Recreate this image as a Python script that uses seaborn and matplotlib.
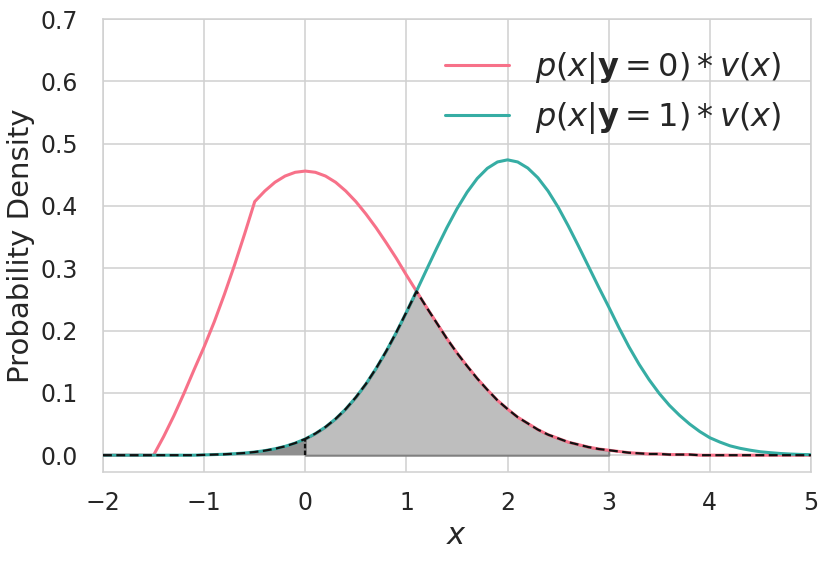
import numpy as np
import pandas as pd
import matplotlib
matplotlib.use("Agg")
import matplotlib.pyplot as plt
import seaborn as sns

# sample positions along x
x_vals = np.round(np.arange(-2.0, 5.0001, 0.1), 1)

# p(x|y=0)*v(x)
pink_vals = [0, 0, 0, 0, 0, 0,
             0.030, 0.063, 0.099, 0.137, 0.174, 0.214, 0.258, 0.305, 0.355, 0.407,
             0.424, 0.438, 0.448, 0.454, 0.456, 0.454, 0.448, 0.438, 0.424, 0.407,
             0.387, 0.365, 0.341, 0.316, 0.289, 0.263, 0.237, 0.212, 0.187, 0.164,
             0.143, 0.123, 0.105, 0.088, 0.074, 0.061, 0.051, 0.041, 0.033, 0.027,
             0.021, 0.017, 0.013, 0.010, 0.008, 0.006, 0.004, 0.003, 0.002, 0.002,
             0.001, 0.001, 0.001, 0.0,
             0, 0, 0, 0, 0, 0, 0, 0, 0, 0, 0]

# p(x|y=1)*v(x)
teal_vals = [0, 0, 0, 0, 0, 0, 0, 0, 0, 0,
             0.0005, 0.001, 0.0015, 0.0024, 0.0035, 0.0051, 0.0073, 0.0103, 0.0142, 0.0194,
             0.0261, 0.0347, 0.0453, 0.0584, 0.0742, 0.0929, 0.1145, 0.1393, 0.1669, 0.1972,
             0.2297, 0.2635, 0.2981, 0.3323, 0.3652, 0.3955, 0.4221, 0.4441, 0.4604, 0.4706,
             0.474,
             0.4706, 0.4608, 0.4452, 0.424, 0.398, 0.368, 0.336, 0.303, 0.270, 0.238,
             0.205, 0.174, 0.146, 0.121, 0.099, 0.080, 0.064, 0.050, 0.038, 0.028,
             0.021, 0.015, 0.011, 0.008, 0.0055, 0.004, 0.0027, 0.0018, 0.0012, 0.0008]

labels = [r"$p(x|\mathbf{y}=0) * v(x)$", r"$p(x|\mathbf{y}=1) * v(x)$"]
shade_lo, shade_hi = 0.0, 3.0
x_ticks = [-2, -1, 0, 1, 2, 3, 4, 5]
y_ticks = [0.0, 0.1, 0.2, 0.3, 0.4, 0.5, 0.6, 0.7]

sns.set_theme(style="whitegrid")
plt.rcParams["font.family"] = ["DejaVu Sans"]

x = np.asarray(x_vals)
pink = np.asarray(pink_vals)
teal = np.asarray(teal_vals)
lower = np.minimum(pink, teal)

df = pd.DataFrame({
    "x": np.concatenate([x, x]),
    "density": np.concatenate([pink, teal]),
    "series": [labels[0]] * len(x) + [labels[1]] * len(x),
})

palette = sns.color_palette("husl", 2)

fig = plt.figure(figsize=(8.30, 5.61), dpi=100)
ax = fig.add_axes([0.1241, 0.1586, 0.8530, 0.8075])

# shaded areas
mask_mid = (x >= shade_lo) & (x <= shade_hi)
ax.fill_between(x, 0, lower, where=mask_mid, facecolor="#bebebe",
                edgecolor="#808080", linewidth=1.5, zorder=1)
mask_left = x <= shade_lo
ax.fill_between(x, 0, lower, where=mask_left, facecolor="#8f8f8f",
                edgecolor="none", linewidth=0, zorder=1)

sns.lineplot(data=df, x="x", y="density", hue="series", palette=palette,
             linewidth=2.2, ax=ax, zorder=3)

ax.plot(x, lower, color="#111111", linestyle=(0, (4, 2.0)), linewidth=1.6, zorder=4)
ax.vlines(shade_lo, 0, np.interp(shade_lo, x, lower), color="#111111",
          linestyle=(0, (2, 1)), linewidth=1.6, zorder=4)

ax.set_xlim(-2, 5)
ax.set_ylim(-0.027, 0.7)
ax.set_xticks(x_ticks)
ax.set_yticks(y_ticks)
ax.set_yticklabels([f"{v:.1f}" for v in y_ticks])
ax.tick_params(axis="y", labelsize=17, pad=12, colors="#262626")
ax.tick_params(axis="x", labelsize=17, pad=8, colors="#262626")
ax.set_xlabel("$x$", fontsize=22, color="#262626", labelpad=4)
ax.set_ylabel("Probability Density", fontsize=21, color="#262626", labelpad=4)
ax.grid(True, color="#d0d0d0", linewidth=1.1)
for s in ax.spines.values():
    s.set_color("#d0d0d0")
    s.set_linewidth(1.1)

handles, lbls = ax.get_legend_handles_labels()
ax.legend(handles, lbls, loc="upper right", bbox_to_anchor=(0.998, 0.995),
          frameon=False, fontsize=23, handlelength=2.0, labelspacing=0.45)

fig.savefig("out.png", dpi=100)
